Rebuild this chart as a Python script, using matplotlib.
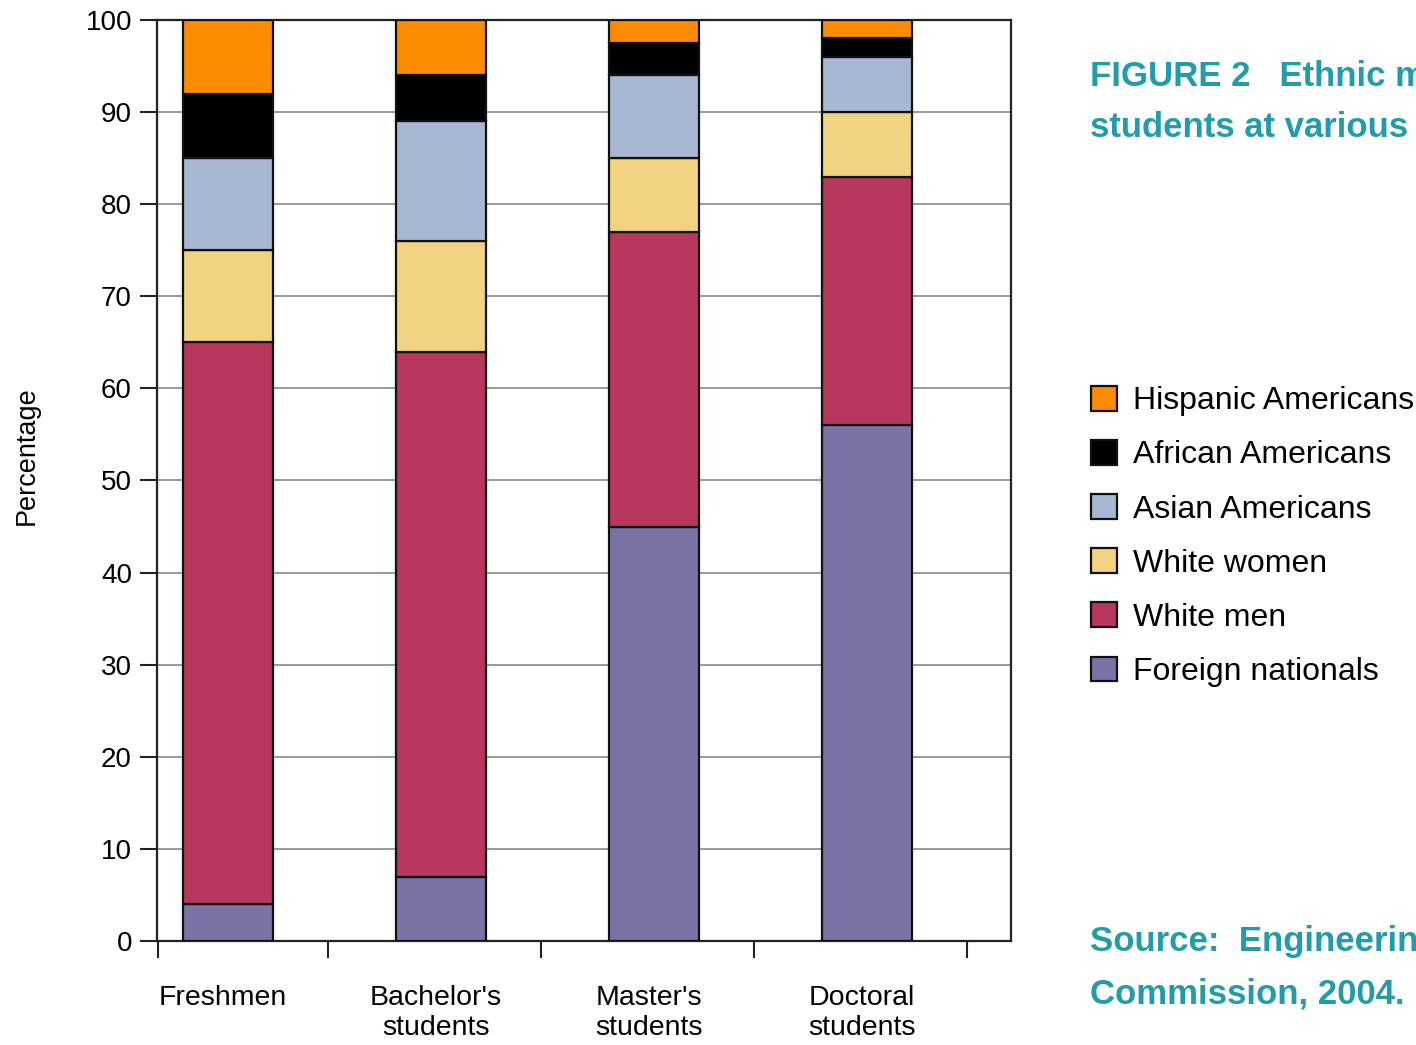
import numpy as np
import matplotlib

matplotlib.use("Agg")
import matplotlib.pyplot as plt
from matplotlib.transforms import blended_transform_factory

plt.rcParams["font.family"] = ["Liberation Sans", "DejaVu Sans"]

# data (percent of each level, bottom -> top)
levels = ["Freshmen", "Bachelor's\nstudents", "Master's\nstudents", "Doctoral\nstudents"]
groups = ["Foreign nationals", "White men", "White women", "Asian Americans",
          "African Americans", "Hispanic Americans"]
foreign = [4, 7, 45, 56]
white_men = [61, 57, 32, 27]
white_women = [10, 12, 8, 7]
asian = [10, 13, 9, 6]
african = [7, 5, 3.5, 2]
hispanic = [8, 6, 2.5, 2]
colors = ["#7b72a6", "#b8375c", "#f2d382", "#a8b8d2", "#000000", "#fb8c00"]

series = [foreign, white_men, white_women, asian, african, hispanic]

W, H = 1416, 1045
fig = plt.figure(figsize=(W / 100, H / 100), dpi=100)
ax = fig.add_axes([157 / W, 1 - 941 / H, (1011 - 157) / W, (941 - 20) / H])

x = np.arange(len(levels))
bottom = np.zeros(len(levels))
handles = []
for vals, col, lab in zip(series, colors, groups):
    b = ax.bar(x, vals, width=0.42, bottom=bottom, color=col, edgecolor="#111111",
               linewidth=1.6, label=lab, zorder=3)
    handles.append(b)
    bottom += np.array(vals)

ax.set_xlim(-0.333, 3.676)
ax.set_ylim(0, 100)
ax.set_yticks(range(0, 101, 10))
ax.yaxis.grid(True, color="#9a9a9a", lw=1.4, zorder=0)
ax.set_axisbelow(True)

# x ticks sit between the bars, labels go under the bars
ax.set_xticks([-0.33, 0.47, 1.47, 2.47, 3.47])
ax.set_xticklabels([])
ax.tick_params(axis="both", direction="out", length=12, width=1.5, color="#222222")
ax.tick_params(axis="y", labelsize=20, pad=6)
for s in ax.spines.values():
    s.set_color("#222222")
    s.set_linewidth(1.6)

tr = blended_transform_factory(ax.transData, ax.transAxes)
for xi, lab in zip(x, levels):
    ax.text(xi - 0.025, -0.048, lab, transform=tr, ha="center", va="top",
            fontsize=20.5, linespacing=1.2)

ax.set_ylabel("Percentage", fontsize=19.5)
ax.yaxis.set_label_coords(-0.137, 0.527)

leg = fig.legend(handles[::-1], groups[::-1], loc="upper left",
                 bbox_to_anchor=(1062 / W, 1 - 357 / H), frameon=False,
                 fontsize=23, handlelength=0.82, handleheight=0.82,
                 handletextpad=0.5, labelspacing=0.74)

teal = "#229cab"
fig.text(1090 / W, 1 - 60 / H, "FIGURE 2   Ethnic makeup of engineering\n"
         "students at various educational levels", color=teal, fontsize=25,
         fontweight="bold", va="top", ha="left", linespacing=1.7)
fig.text(1090 / W, 1 - 925 / H, "Source:  Engineering Workforce\nCommission, 2004.",
         color=teal, fontsize=25, fontweight="bold", va="top",
         ha="left", linespacing=1.75)

fig.savefig("out.png", dpi=100)
